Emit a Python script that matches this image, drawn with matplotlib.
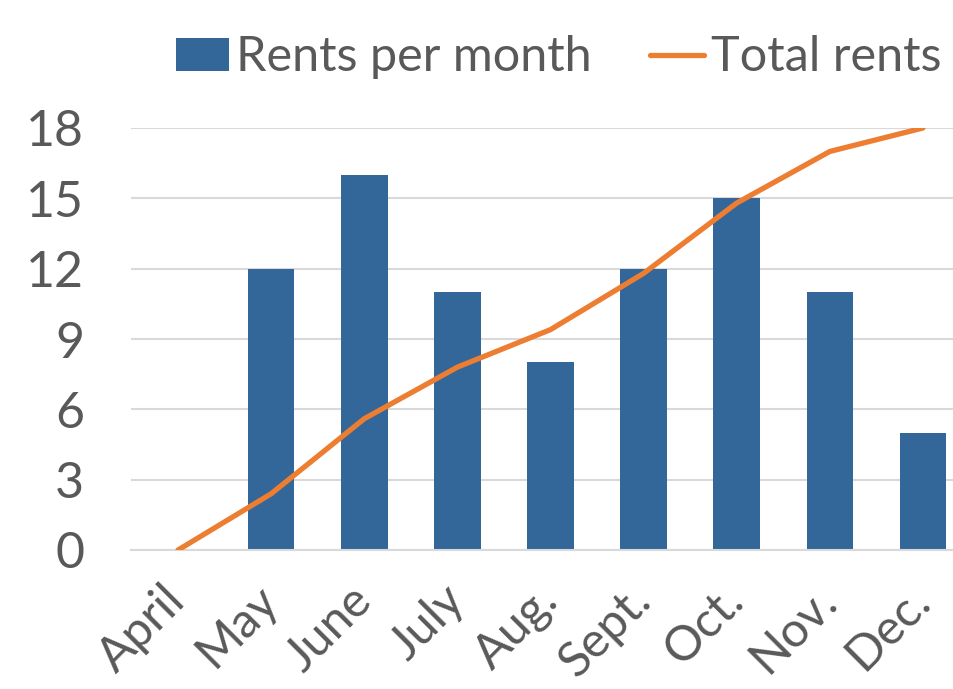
import matplotlib
matplotlib.use("Agg")
import matplotlib.pyplot as plt
import numpy as np

months = ["April", "May", "June", "July", "Aug.", "Sept.", "Oct.", "Nov.", "Dec."]
rents_per_month = [0, 12, 16, 11, 8, 12, 15, 11, 5]
total_rents = [0, 12, 28, 39, 47, 59, 74, 85, 90]
yticks = [0, 3, 6, 9, 12, 15, 18]

plt.rcParams['font.family'] = ['Lato', 'DejaVu Sans']
txt = '#595959'
bar_c = '#336699'
line_c = '#ED7D31'

fig = plt.figure(figsize=(9.54, 6.89), dpi=100)
W, H = 954, 689
ax = fig.add_axes([131.5 / W, (H - 550) / H, (969.5 - 131.5) / W, 422 / H])
x = np.arange(len(months))
bars = ax.bar(x, rents_per_month, width=0.5, color=bar_c, zorder=2, label="Rents per month")
ax.set_xlim(-0.5, len(months) - 0.5)
ax.set_ylim(0, 18)
ax.set_yticks(yticks)
ax.yaxis.grid(True, color='#d9d9d9', linewidth=1.5, zorder=0)
ax.set_axisbelow(True)
for s in ['top', 'right', 'left']:
    ax.spines[s].set_visible(False)
ax.spines['bottom'].set_color('#d9d9d9')
ax.spines['bottom'].set_linewidth(1.5)
ax.tick_params(axis='y', length=0, labelsize=36, labelcolor=txt, pad=34)
ax.tick_params(axis='x', length=0, labelsize=35, labelcolor=txt, pad=31)
ax.set_xticks(x)
ax.set_xticklabels(months, rotation=45, ha='right', rotation_mode='anchor', va='center')

ax2 = ax.twinx()
ax2.set_ylim(0, 90)
line, = ax2.plot(x, total_rents, color=line_c, linewidth=3.8, solid_capstyle='round', zorder=3, label="Total rents")
ax2.axis('off')

leg = fig.legend(handles=[bars, line], labels=["Rents per month", "Total rents"],
                 loc='upper right', bbox_to_anchor=(961 / W, 1 - 16 / H), ncol=2, frameon=False,
                 fontsize=35, labelcolor=txt, handlelength=1.1, handleheight=0.65,
                 handletextpad=0.15, columnspacing=1.2, borderaxespad=0)
for t in leg.get_texts():
    t.set_color(txt)

fig.savefig("out.png", dpi=100)
